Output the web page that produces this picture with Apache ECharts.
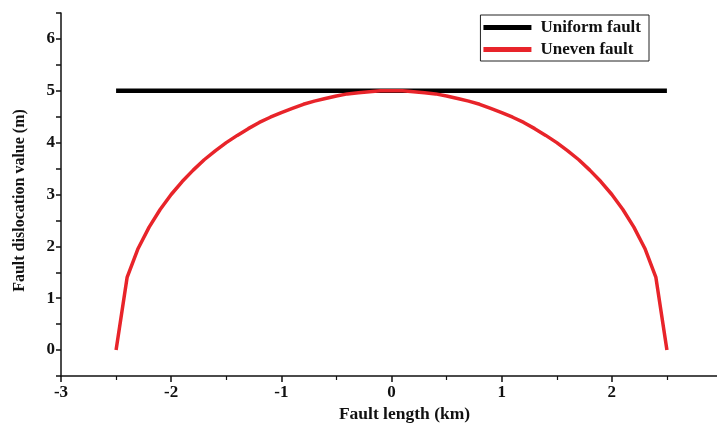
<!DOCTYPE html>
<html><head><meta charset="utf-8">
<script src="https://cdn.jsdelivr.net/npm/echarts@6/dist/echarts.min.js"></script>
<style>html,body{margin:0;padding:0;background:#fff}#c{width:717px;height:423px}</style>
</head><body><div id="c"></div>
<script>
const xValues = [-2.5,-2.4,-2.3,-2.2,-2.1,-2.0,-1.9,-1.8,-1.7,-1.6,-1.5,-1.4,-1.3,-1.2,-1.1,-1.0,-0.9,-0.8,-0.7,-0.6,-0.5,-0.4,-0.3,-0.2,-0.1,0,
  0.1,0.2,0.3,0.4,0.5,0.6,0.7,0.8,0.9,1.0,1.1,1.2,1.3,1.4,1.5,1.6,1.7,1.8,1.9,2.0,2.1,2.2,2.3,2.4,2.5];
const unevenValues = [0,1.40,1.96,2.37,2.71,3.00,3.25,3.47,3.67,3.84,4.00,4.14,4.27,4.39,4.49,4.58,4.66,4.74,4.80,4.85,4.90,4.94,4.96,4.98,5.00,5.00,
  5.00,4.98,4.96,4.94,4.90,4.85,4.80,4.74,4.66,4.58,4.49,4.39,4.27,4.14,4.00,3.84,3.67,3.47,3.25,3.00,2.71,2.37,1.96,1.40,0];
const uniformX = [-2.5, 2.5];
const uniformValues = [5, 5];
const seriesNames = ['Uniform fault', 'Uneven fault'];
const xName = 'Fault length (km)';
const yName = 'Fault dislocation value (m)';

const font = 'Liberation Serif';
const chart = echarts.init(document.getElementById('c'));
chart.setOption({
  animation: false,
  backgroundColor: '#fff',
  grid: {left: 61, top: 13, right: -5, bottom: 47, containLabel: false, outerBoundsMode: 'none'},
  legend: {
    right: 68, top: 15, orient: 'vertical',
    borderColor: '#222', borderWidth: 1, padding: [4, 8, 3, 3],
    itemWidth: 48, itemHeight: 5, itemGap: 5,
    textStyle: {fontFamily: font, fontWeight: 'bold', fontSize: 17, color: '#111', padding: [0, 0, 0, 4]},
    data: [{name: seriesNames[0], icon: 'rect'}, {name: seriesNames[1], icon: 'rect'}]
  },
  xAxis: {
    type: 'value', min: -3, max: 3, interval: 1,
    name: xName, nameLocation: 'middle', nameGap: 27,
    nameTextStyle: {fontFamily: font, fontWeight: 'bold', fontSize: 17.5, color: '#111', padding: [0, 0, 0, 26]},
    axisLine: {onZero: false, lineStyle: {color: '#111', width: 1.5}},
    axisTick: {inside: false, length: 6, lineStyle: {color: '#111', width: 1.5}},
    minorTick: {show: true, splitNumber: 2, length: 4, lineStyle: {color: '#111', width: 1.2}},
    axisLabel: {fontFamily: font, fontWeight: 'bold', fontSize: 17, color: '#111', margin: 8, showMaxLabel: true},
    splitLine: {show: false}
  },
  yAxis: {
    type: 'value', min: -0.5, max: 6.5,
    interval: 0.5,
    name: yName, nameLocation: 'middle', nameGap: 33,
    nameTextStyle: {fontFamily: font, fontWeight: 'bold', fontSize: 16, color: '#111', padding: [0, 12, 0, 0]},
    axisLine: {onZero: false, lineStyle: {color: '#111', width: 1.5}},
    axisTick: {length: 5, lineStyle: {color: '#111', width: 1.5}},
    axisLabel: {fontFamily: font, fontWeight: 'bold', fontSize: 17, color: '#111', margin: 6,
      formatter: v => (Math.abs(v - Math.round(v)) < 1e-9 && v >= 0 && v <= 6) ? String(Math.round(v)) : ''},
    splitLine: {show: false}
  },
  series: [
    {name: seriesNames[0], type: 'line', data: uniformX.map((x, i) => [x, uniformValues[i]]),
      showSymbol: false, lineStyle: {color: '#000', width: 4.5}, itemStyle: {color: '#000'}, z: 3},
    {name: seriesNames[1], type: 'line', data: xValues.map((x, i) => [x, unevenValues[i]]),
      showSymbol: false, lineStyle: {color: '#e8242a', width: 3.5}, itemStyle: {color: '#e8242a'}, z: 4}
  ]
});
</script></body></html>
